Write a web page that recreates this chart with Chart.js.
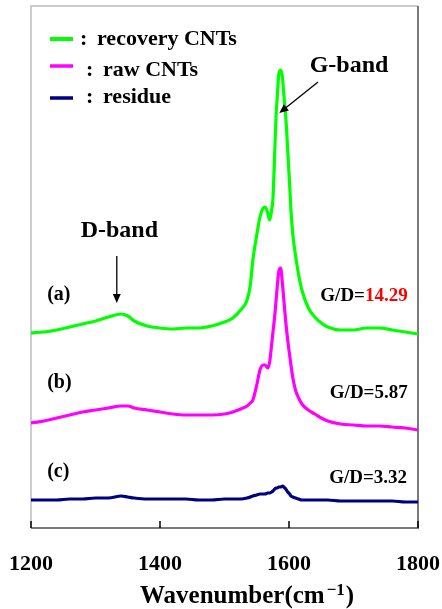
<!DOCTYPE html>
<html>
<head>
<meta charset="utf-8">
<script src="https://cdn.jsdelivr.net/npm/chart.js@4.4.0/dist/chart.umd.min.js"></script>
<style>
  html, body { margin: 0; padding: 0; background: #fff; }
  canvas { display: block; }
</style>
</head>
<body>
<canvas id="raman" width="442" height="609"></canvas>
<script>
// Daten (Intensitaet in willkuerlichen Einheiten)
const wavenumbers = [1200,1220,1240,1260,1280,1300,1320,1340,1350,1360,1380,1400,1420,1440,1460,1480,1500,
  1513,1525,1535,1540,1544,1550,1555,1560,1563,1567,1570,1573,1575,1578,1580,
  1582,1584,1587,1590,1592,1595,1598,1601,1603,1606,1610,1615,1620,1630,1640,1650,1660,
  1680,1700,1720,1740,1760,1780,1800];
const recoveryCNTs = [195,196,198,201,204,207,211,214,212,207,202,200,199,200,200,202,206,
  210,218,228,243,268,293,311,320,321,315,308,318,328,378,413,
  433,453,458,450,433,411,378,343,318,293,273,253,238,220,211,205,201,
  198,198,200,200,198,196,194];
const rawCNTs = [105,107,110,113,116,118,120,122,122,120,118,116,114,113,113,113,114,
  116,119,122,125,128,143,158,163,163,160,166,183,195,213,228,
  243,256,260,243,228,206,188,173,163,150,138,130,124,118,114,110,107,
  104,103,102,102,101,100,98];
const residue = [28,28,28,29,29,30,30,32,31,30,29,29,29,29,28,28,29,
  29,29,30,31,32,33,34,34,34,35,35,36,37,39,40,
  40,41,41,42,41,39,36,34,32,31,30,29,28,28,28,28,28,
  27,27,27,27,27,26,26];
const seriesNames = ['recovery CNTs', 'raw CNTs', 'residue'];
const seriesColors = ['#00ff00', '#ff00ff', '#000080'];
const xTicks = [1200, 1400, 1600, 1800];
const ratioLabels = ['(a)', '(b)', '(c)'];
const ratioValues = ['14.29', '5.87', '3.32'];

const serif = '"Liberation Serif", "Times New Roman", serif';

// Beschriftungen in Datenkoordinaten
const notes = [
  { text: 'G-band', x: 1632, y: 456, align: 'left', size: 24 },
  { text: 'D-band', x: 1277, y: 291, align: 'left', size: 24 },
  { text: ratioLabels[0], x: 1225, y: 228, align: 'left', size: 20 },
  { text: ratioLabels[1], x: 1225, y: 140, align: 'left', size: 20 },
  { text: ratioLabels[2], x: 1225, y: 51, align: 'left', size: 20 }
];
const ratioPos = [ { x: 1784, y: 227 }, { x: 1784, y: 130 }, { x: 1783, y: 45 } ];
const arrows = [
  { from: [1645, 446], to: [1585, 415] },
  { from: [1333, 272], to: [1333, 225] }
];

const toPoints = (vals) => wavenumbers.map((w, i) => ({ x: w, y: vals[i] }));

const drawArrow = (ctx, x1, y1, x2, y2) => {
  const ang = Math.atan2(y2 - y1, x2 - x1);
  const len = 9, half = 4;
  ctx.beginPath();
  ctx.moveTo(x1, y1);
  ctx.lineTo(x2 - Math.cos(ang) * len * 0.8, y2 - Math.sin(ang) * len * 0.8);
  ctx.stroke();
  ctx.beginPath();
  ctx.moveTo(x2, y2);
  ctx.lineTo(x2 - Math.cos(ang) * len - Math.sin(ang) * half, y2 - Math.sin(ang) * len + Math.cos(ang) * half);
  ctx.lineTo(x2 - Math.cos(ang) * len + Math.sin(ang) * half, y2 - Math.sin(ang) * len - Math.cos(ang) * half);
  ctx.closePath();
  ctx.fill();
};

const decorations = {
  id: 'decorations',
  beforeDatasetsDraw(chart) {
    const { ctx, chartArea: a } = chart;
    ctx.save();
    ctx.lineWidth = 1.5;
    ctx.strokeStyle = '#bdbdbd';
    ctx.beginPath();
    ctx.moveTo(a.left, a.bottom); ctx.lineTo(a.left, a.top); ctx.lineTo(a.right, a.top);
    ctx.stroke();
    ctx.lineWidth = 2;
    ctx.strokeStyle = '#7a7a7a';
    ctx.beginPath();
    ctx.moveTo(a.right, a.top); ctx.lineTo(a.right, a.bottom); ctx.lineTo(a.left, a.bottom);
    ctx.stroke();
    // Ticks nach innen
    const xs = chart.scales.x;
    ctx.lineWidth = 1.5;
    ctx.strokeStyle = '#000';
    xTicks.forEach(t => {
      const px = xs.getPixelForValue(t);
      ctx.beginPath();
      ctx.moveTo(px, a.bottom - 7); ctx.lineTo(px, a.bottom);
      ctx.stroke();
    });
    ctx.restore();
  },
  afterDatasetsDraw(chart) {
    const { ctx, chartArea: a } = chart;
    const xs = chart.scales.x, ys = chart.scales.y;
    ctx.save();
    ctx.fillStyle = '#000';
    ctx.textBaseline = 'alphabetic';

    // Legende
    const rows = [
      { lineY: 39, textY: 45, colonX: 80, textX: 97, lw: 4 },
      { lineY: 66, textY: 76, colonX: 86, textX: 103, lw: 3.5 },
      { lineY: 98, textY: 103, colonX: 86, textX: 103, lw: 3.5 }
    ];
    chart.data.datasets.forEach((ds, i) => {
      const r = rows[i];
      ctx.strokeStyle = ds.borderColor;
      ctx.lineWidth = r.lw;
      ctx.beginPath();
      ctx.moveTo(50, r.lineY); ctx.lineTo(73, r.lineY);
      ctx.stroke();
      ctx.font = 'bold 22px ' + serif;
      ctx.textAlign = 'left';
      ctx.fillText(':', r.colonX, r.textY);
      ctx.fillText(ds.label, r.textX, r.textY);
    });

    // Texte
    notes.forEach(n => {
      ctx.font = 'bold ' + n.size + 'px ' + serif;
      ctx.textAlign = n.align;
      ctx.fillText(n.text, xs.getPixelForValue(n.x), ys.getPixelForValue(n.y));
    });

    // G/D-Verhaeltnisse
    ctx.font = 'bold 19px ' + serif;
    ctx.textAlign = 'left';
    ratioPos.forEach((p, i) => {
      const right = xs.getPixelForValue(p.x);
      const y = ys.getPixelForValue(p.y);
      const prefix = 'G/D=';
      const wPre = ctx.measureText(prefix).width;
      const wVal = ctx.measureText(ratioValues[i]).width;
      const left = right - wPre - wVal;
      ctx.fillStyle = '#000';
      ctx.fillText(prefix, left, y);
      ctx.fillStyle = i === 0 ? '#ff0000' : '#000';
      ctx.fillText(ratioValues[i], left + wPre, y);
    });

    // Pfeile
    ctx.fillStyle = '#000';
    ctx.strokeStyle = '#000';
    ctx.lineWidth = 1.3;
    arrows.forEach(ar => {
      drawArrow(ctx, xs.getPixelForValue(ar.from[0]), ys.getPixelForValue(ar.from[1]),
        xs.getPixelForValue(ar.to[0]), ys.getPixelForValue(ar.to[1]));
    });

    // Achsentitel
    const main = 'Wavenumber(cm', sup = '\u22121', close = ')';
    ctx.font = 'bold 25px ' + serif;
    const w1 = ctx.measureText(main).width;
    const w3 = ctx.measureText(close).width;
    ctx.font = 'bold 17px ' + serif;
    const w2 = ctx.measureText(sup).width;
    const cx = xs.getPixelForValue(1535);
    const baseY = a.bottom + 75;
    let x0 = cx - (w1 + w2 + w3 + 3) / 2;
    ctx.textAlign = 'left';
    ctx.font = 'bold 25px ' + serif;
    ctx.fillText(main, x0, baseY);
    ctx.font = 'bold 17px ' + serif;
    ctx.fillText(sup, x0 + w1 + 2, baseY - 8);
    ctx.font = 'bold 25px ' + serif;
    ctx.fillText(close, x0 + w1 + w2 + 3, baseY);
    ctx.restore();
  }
};

const ctx = document.getElementById('raman').getContext('2d');
const datasets = [recoveryCNTs, rawCNTs, residue].map((vals, i) => ({
  label: seriesNames[i],
  data: toPoints(vals),
  borderColor: seriesColors[i],
  backgroundColor: seriesColors[i],
  borderWidth: 3.2,
  pointRadius: 0,
  cubicInterpolationMode: 'monotone',
  fill: false
}));

new Chart(ctx, {
  type: 'line',
  data: { datasets },
  options: {
    responsive: false,
    animation: false,
    devicePixelRatio: 1,
    layout: { padding: { left: 31, right: 24, top: 6, bottom: 0 } },
    plugins: {
      legend: { display: false },
      tooltip: { enabled: false }
    },
    scales: {
      x: {
        type: 'linear',
        min: 1200,
        max: 1800,
        afterBuildTicks: (scale) => { scale.ticks = xTicks.map(v => ({ value: v })); },
        afterFit: (scale) => {
          scale.height = 81;
          scale.paddingLeft = 0;
          scale.paddingRight = 0;
        },
        grid: { display: false, drawTicks: false },
        border: { display: false },
        ticks: {
          autoSkip: false,
          maxRotation: 0,
          padding: 23,
          color: '#000',
          callback: (v) => String(v),
          font: { family: serif, size: 22, weight: 'bold' }
        }
      },
      y: {
        display: false,
        min: 0,
        max: 522
      }
    }
  },
  plugins: [decorations]
});
</script>
</body>
</html>
